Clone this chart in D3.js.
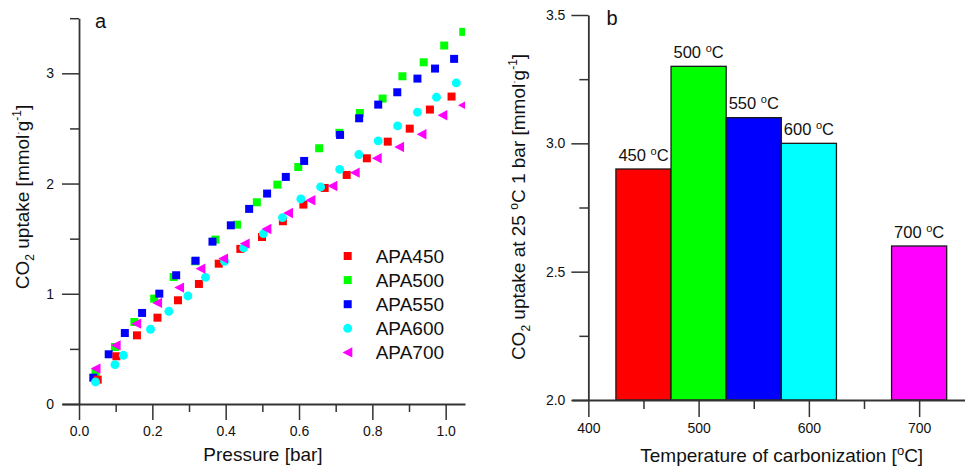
<!DOCTYPE html>
<html>
<head>
<meta charset="utf-8">
<script src="https://cdn.jsdelivr.net/npm/d3@7"></script>
<style>
  body { margin: 0; background: #fff; }
  svg { display: block; font-family: "Liberation Sans", Arial, sans-serif; }
</style>
</head>
<body>
<svg id="chart" width="965" height="467"></svg>
<script>
// ---- Panel a: CO2 adsorption isotherms, [pressure (bar), uptake (mmol/g)] ----
const apa450 = [[0.051,0.221],[0.102,0.433],[0.158,0.623],[0.214,0.783],[0.270,0.941],[0.327,1.089],
  [0.381,1.273],[0.440,1.407],[0.499,1.515],[0.556,1.658],[0.612,1.809],[0.670,1.960],[0.730,2.078],
  [0.785,2.229],[0.842,2.380],[0.902,2.498],[0.957,2.671],[1.016,2.789]];
const apa500 = [[0.045,0.285],[0.098,0.517],[0.151,0.744],[0.205,0.956],[0.258,1.152],[0.316,1.295],
  [0.372,1.491],[0.431,1.627],[0.485,1.830],[0.541,1.990],[0.598,2.150],[0.655,2.320],[0.710,2.460],
  [0.766,2.640],[0.828,2.771],[0.882,2.973],[0.940,3.100],[0.996,3.252],[1.048,3.376]];
const apa550 = [[0.039,0.239],[0.081,0.451],[0.125,0.644],[0.172,0.826],[0.219,1.001],[0.265,1.168],
  [0.318,1.300],[0.364,1.473],[0.414,1.621],[0.464,1.770],[0.513,1.909],[0.564,2.060],[0.614,2.205],
  [0.712,2.441],[0.764,2.592],[0.816,2.716],[0.868,2.828],[0.923,2.952],[0.971,3.043],[1.023,3.131]];
const apa600 = [[0.045,0.200],[0.098,0.357],[0.121,0.442],[0.195,0.678],[0.245,0.841],[0.297,0.980],
  [0.345,1.149],[0.397,1.295],[0.449,1.416],[0.503,1.546],[0.555,1.691],[0.605,1.860],[0.659,1.969],
  [0.711,2.129],[0.763,2.263],[0.816,2.387],[0.869,2.523],[0.923,2.647],[0.975,2.783],[1.029,2.913]];
const apa700 = [[0.046,0.321],[0.101,0.532],[0.157,0.729],[0.214,0.917],[0.274,1.056],[0.332,1.228],
  [0.394,1.319],[0.453,1.455],[0.512,1.588],[0.571,1.733],[0.632,1.848],[0.692,1.978],[0.753,2.099],
  [0.813,2.229],[0.874,2.332],[0.935,2.447],[0.992,2.619],[1.048,2.710]];

const seriesNames  = ["APA450", "APA500", "APA550", "APA600", "APA700"];
const seriesData   = [apa450, apa500, apa550, apa600, apa700];
const seriesColors = ["#ff0000", "#00ff00", "#0000ff", "#00ffff", "#ff00ff"];
const seriesShapes = ["square", "square", "square", "circle", "triangleLeft"];
const drawOrder    = [1, 2, 0, 3, 4];

const pressureTicks = [0, 0.2, 0.4, 0.6, 0.8, 1.0];
const pressureMinor = [0.1, 0.3, 0.5, 0.7, 0.9];
const uptakeTicks   = [0, 1, 2, 3];
const uptakeMinor   = [0.5, 1.5, 2.5, 3.5];

// ---- Panel b: uptake at 25 °C, 1 bar vs carbonization temperature ----
const carbTemps   = [450, 500, 550, 600, 700];
const carbUptake  = [2.9, 3.3, 3.1, 3.0, 2.6];
const barColors   = ["#ff0000", "#00ff00", "#0000ff", "#00ffff", "#ff00ff"];
const barWidthC   = 50;
const tempTicks   = [400, 500, 600, 700];
const tempMinor   = [450, 550, 650];
const barYTicks   = [2.0, 2.5, 3.0, 3.5];
const barYMinor   = [2.25, 2.75, 3.25];

const AX = "#333";
const TXT = "#111";
const svg = d3.select("#chart");

function styleAxis(g, fontSize) {
  g.attr("font-family", null).attr("font-size", fontSize);
  g.select(".domain").attr("stroke", AX).attr("stroke-width", 1.8);
  g.selectAll(".tick line").attr("stroke", AX).attr("stroke-width", 1.5);
  g.selectAll(".tick text").attr("fill", TXT);
}
function minorAxis(g) {
  g.attr("font-family", null);
  g.select(".domain").remove();
  g.selectAll(".tick line").attr("stroke", AX).attr("stroke-width", 1.5);
}

function shapePath(shape) {
  if (shape === "square") return "M-4,-4H4V4H-4Z";
  if (shape === "circle") return d3.symbol(d3.symbolCircle, 62)();
  return "M-5.2,0L4.6,-5.2L4.6,5.2Z";
}

// ================= Panel a =================
const xA = d3.scaleLinear().domain([-0.0464, 1.0527]).range([62, 465]);
const yA = d3.scaleLinear().domain([0, 3.5]).range([404, 18.2]);

svg.append("defs").append("clipPath").attr("id", "clipA")
  .append("rect").attr("x", 62).attr("y", 0).attr("width", 465 - 62).attr("height", 410);

svg.append("g").attr("transform", `translate(0,${yA(0)})`)
  .call(d3.axisBottom(xA).tickValues(pressureTicks).tickFormat(d3.format(".1f"))
        .tickSize(16).tickSizeOuter(0).tickPadding(6))
  .call(g => styleAxis(g, 14));
svg.append("g").attr("transform", `translate(0,${yA(0)})`)
  .call(d3.axisBottom(xA).tickValues(pressureMinor).tickFormat("").tickSize(8))
  .call(minorAxis);

svg.append("g").attr("transform", `translate(${xA(0)},0)`)
  .call(d3.axisLeft(yA).tickValues(uptakeTicks).tickFormat(d3.format("d"))
        .tickSize(17).tickSizeOuter(0).tickPadding(8))
  .call(g => styleAxis(g, 14));
svg.append("g").attr("transform", `translate(${xA(0)},0)`)
  .call(d3.axisLeft(yA).tickValues(uptakeMinor).tickFormat("").tickSize(9))
  .call(minorAxis);

const plotA = svg.append("g").attr("clip-path", "url(#clipA)");
drawOrder.forEach(i => {
  plotA.append("g").selectAll("path").data(seriesData[i]).join("path")
    .attr("d", shapePath(seriesShapes[i]))
    .attr("transform", d => `translate(${xA(d[0])},${yA(d[1])})`)
    .attr("fill", seriesColors[i]);
});

// legend
const legend = svg.append("g").attr("transform", "translate(347.7,256)");
seriesNames.forEach((name, i) => {
  const row = legend.append("g").attr("transform", `translate(0,${i * 24.1})`);
  row.append("path").attr("d", shapePath(seriesShapes[i])).attr("fill", seriesColors[i]);
  row.append("text").attr("x", 28).attr("y", 7).attr("font-size", 19).attr("fill", TXT).text(name);
});

// axis titles a
svg.append("text").attr("x", 263).attr("y", 461).attr("text-anchor", "middle")
  .attr("font-size", 19).attr("fill", TXT).text("Pressure [bar]");

const ttlA = svg.append("text").attr("transform", "translate(29,197) rotate(-90)")
  .attr("text-anchor", "middle").attr("font-size", 19).attr("fill", TXT);
ttlA.append("tspan").text("CO");
ttlA.append("tspan").attr("font-size", 12).attr("dy", 5).text("2");
ttlA.append("tspan").attr("dy", -5).text(" uptake [mmol");
ttlA.append("tspan").attr("font-size", 10).attr("dy", -7).text("·");
ttlA.append("tspan").attr("dy", 7).text("g");
ttlA.append("tspan").attr("font-size", 12).attr("dy", -8).text("-1");
ttlA.append("tspan").attr("dy", 8).text("]");

svg.append("text").attr("x", 95).attr("y", 28).attr("font-size", 20).attr("fill", TXT).text("a");

// ================= Panel b =================
const xB = d3.scaleLinear().domain([384.9, 741.6]).range([571.7, 965]);
const yB = d3.scaleLinear().domain([2, 3.5]).range([400, 15]);

svg.append("g").selectAll("rect").data(carbTemps).join("rect")
  .attr("x", d => xB(d - barWidthC / 2))
  .attr("width", d => xB(d + barWidthC / 2) - xB(d - barWidthC / 2))
  .attr("y", (d, i) => yB(carbUptake[i]))
  .attr("height", (d, i) => yB(2) - yB(carbUptake[i]))
  .attr("fill", (d, i) => barColors[i])
  .attr("stroke", "#1a1a1a").attr("stroke-width", 1.3);

const barLbl = svg.append("g").selectAll("text").data(carbTemps).join("text")
  .attr("x", d => xB(d))
  .attr("y", (d, i) => yB(carbUptake[i]) - 8.5)
  .attr("text-anchor", "middle").attr("font-size", 16.5).attr("fill", TXT);
barLbl.append("tspan").text(d => d + " ");
barLbl.append("tspan").attr("font-size", 11).attr("dy", -6).text("o");
barLbl.append("tspan").attr("dy", 6).text("C");

svg.append("g").attr("transform", `translate(0,${yB(2)})`)
  .call(d3.axisBottom(xB).tickValues(tempTicks).tickFormat(d3.format("d"))
        .tickSize(17).tickSizeOuter(0).tickPadding(6))
  .call(g => styleAxis(g, 14));
svg.append("g").attr("transform", `translate(0,${yB(2)})`)
  .call(d3.axisBottom(xB).tickValues(tempMinor).tickFormat("").tickSize(9))
  .call(minorAxis);

svg.append("g").attr("transform", `translate(${xB(400)},0)`)
  .call(d3.axisLeft(yB).tickValues(barYTicks).tickFormat(d3.format(".1f"))
        .tickSize(17).tickSizeOuter(0).tickPadding(6))
  .call(g => styleAxis(g, 14));
svg.append("g").attr("transform", `translate(${xB(400)},0)`)
  .call(d3.axisLeft(yB).tickValues(barYMinor).tickFormat("").tickSize(9))
  .call(minorAxis);

const ttlBx = svg.append("text").attr("x", 781.7).attr("y", 462).attr("text-anchor", "middle")
  .attr("font-size", 19).attr("fill", TXT);
ttlBx.append("tspan").text("Temperature of carbonization [");
ttlBx.append("tspan").attr("font-size", 13).attr("dy", -7).text("o");
ttlBx.append("tspan").attr("dy", 7).text("C]");

const ttlBy = svg.append("text").attr("transform", "translate(525,207) rotate(-90)")
  .attr("text-anchor", "middle").attr("font-size", 19).attr("fill", TXT);
ttlBy.append("tspan").text("CO");
ttlBy.append("tspan").attr("font-size", 12).attr("dy", 5).text("2");
ttlBy.append("tspan").attr("dy", -5).text(" uptake at 25 ");
ttlBy.append("tspan").attr("font-size", 12).attr("dy", -7).text("o");
ttlBy.append("tspan").attr("dy", 7).text("C 1 bar [mmol");
ttlBy.append("tspan").attr("font-size", 10).attr("dy", -7).text("·");
ttlBy.append("tspan").attr("dy", 7).text("g");
ttlBy.append("tspan").attr("font-size", 12).attr("dy", -8).text("-1");
ttlBy.append("tspan").attr("dy", 8).text("]");

svg.append("text").attr("x", 606.5).attr("y", 25).attr("font-size", 20).attr("fill", TXT).text("b");
</script>
</body>
</html>
